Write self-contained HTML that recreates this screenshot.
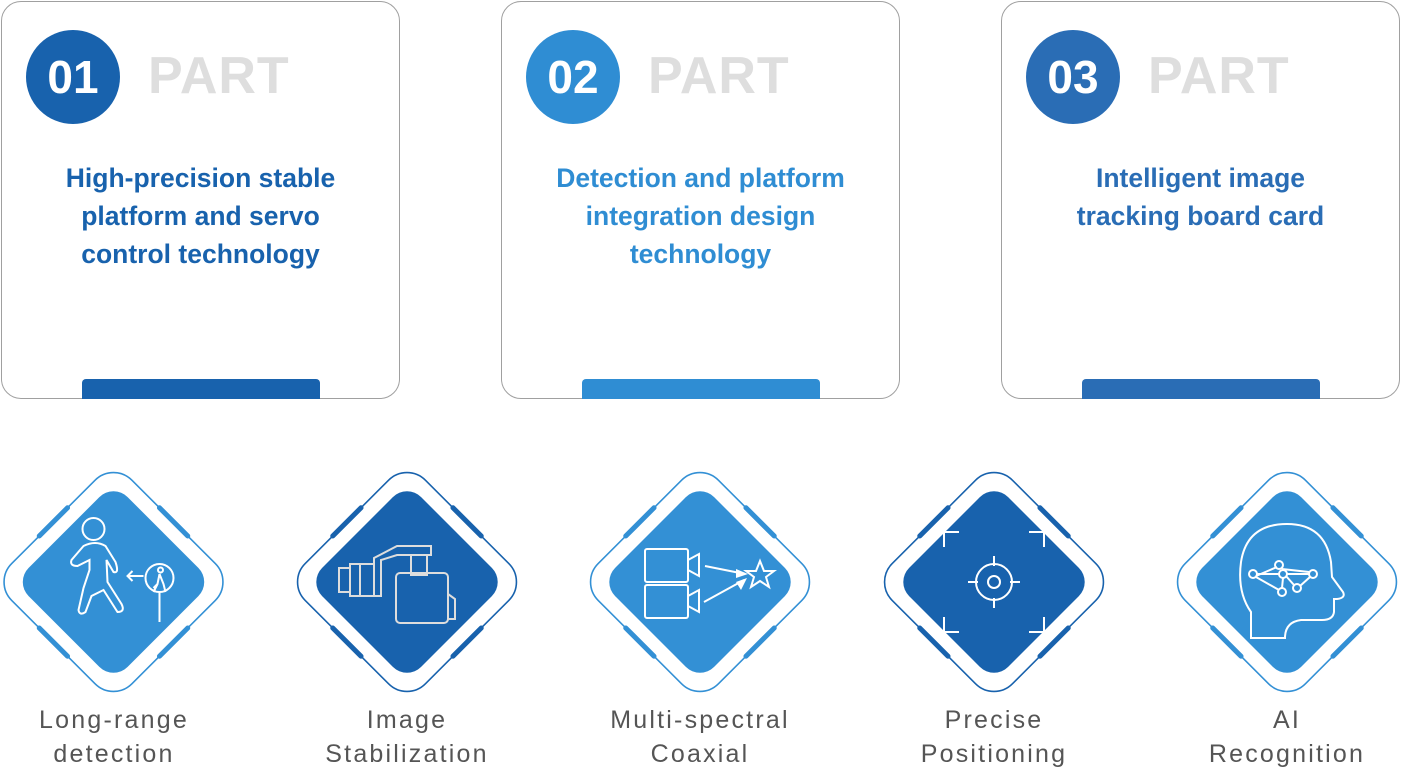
<!DOCTYPE html>
<html><head><meta charset="utf-8"><style>
body{margin:0;width:1401px;height:770px;background:#fff;position:relative;overflow:hidden;font-family:"Liberation Sans","DejaVu Sans",sans-serif}
.card{position:absolute;top:1px;width:399px;height:398px;border:1.5px solid #a0a0a0;border-radius:20px;box-sizing:border-box}
.badge{position:absolute;left:24px;top:28px;width:94px;height:94px;border-radius:50%;color:#fff;font-weight:bold;font-size:46px;line-height:94px;text-align:center}
.part{position:absolute;left:146px;top:44px;font-size:52px;font-weight:bold;color:#dedede;letter-spacing:1px}
.title{position:absolute;left:0;width:397px;top:157px;text-align:center;font-weight:bold;font-size:26.5px;line-height:38px}
.bar{position:absolute;left:80px;width:238px;top:377px;height:20px;border-radius:4px 4px 0 0}
.lab{position:absolute;top:703px;width:240px;text-align:center;font-size:25px;line-height:34px;color:#555;letter-spacing:2.2px}
</style></head><body>
<div class="card" style="left:1px"><div class="badge" style="background:#1862ad">01</div><div class="part">PART</div><div class="title" style="color:#1862ad">High-precision stable<br>platform and servo<br>control technology</div><div class="bar" style="background:#1862ad"></div></div>
<div class="card" style="left:501px"><div class="badge" style="background:#2f8dd3">02</div><div class="part">PART</div><div class="title" style="color:#2f8dd3">Detection and platform<br>integration design<br>technology</div><div class="bar" style="background:#2f8dd3"></div></div>
<div class="card" style="left:1001px"><div class="badge" style="background:#2a6db5">03</div><div class="part">PART</div><div class="title" style="color:#2a6db5">Intelligent image<br>tracking board card</div><div class="bar" style="background:#2a6db5"></div></div>

<svg width="1401" height="770" style="position:absolute;left:0;top:0">
<defs>
<g id="frame">
<g transform="rotate(45)">
<rect x="-85" y="-85" width="170" height="170" rx="26" fill="none" stroke-width="1.6"/>
<g stroke-width="5" stroke-linecap="round">
<line x1="-85" y1="-20" x2="-85" y2="20"/><line x1="85" y1="-20" x2="85" y2="20"/>
<line x1="-20" y1="-85" x2="20" y2="-85"/><line x1="-20" y1="85" x2="20" y2="85"/>
</g>
<rect x="-70" y="-70" width="140" height="140" rx="20" stroke="none"/>
</g></g>
</defs>
<g fill="#3390d5" stroke="#3390d5" transform="translate(113.5,582)"><use href="#frame"/>
<g fill="none" stroke="#fff" stroke-width="2">
<circle cx="-20" cy="-53" r="11"/>
<path d="M-30,-36 Q-18,-42 -8,-36 L2,-20 Q6,-8 0,-10 L-7,-22 L-6,0 L8,22 Q12,30 4,30 L-10,8 L-22,14 L-28,30 Q-34,34 -35,28 L-30,6 L-24,-12 L-24,-22 L-36,-16 Q-44,-16 -42,-22 Z"/>
<circle cx="46" cy="-4" r="14"/><line x1="46" y1="10" x2="46" y2="40"/>
<path d="M30,-6 L14,-6 M19,-11 L14,-6 L19,-1"/>
<circle cx="47" cy="-12" r="2.5"/><path d="M46,-8 L44,2 L40,6 M46,-8 L50,2 L52,10 M44,2 L40,10"/>
</g></g>
<g fill="#1862ad" stroke="#1862ad" transform="translate(407,582)"><use href="#frame"/>
<g fill="none" stroke="#ddd" stroke-width="2">
<rect x="-68" y="-14" width="11" height="24"/><rect x="-57" y="-18" width="10" height="32"/><rect x="-47" y="-18" width="14" height="32"/>
<path d="M-33,-18 L-33,-24 L-10,-36 L24,-36 L24,-27 L-10,-27 L-26,-22 L-26,14 L-33,14"/>
<rect x="4" y="-27" width="16" height="20"/>
<rect x="-11" y="-9" width="52" height="50" rx="4"/><path d="M41,12 L48,17 L48,37 L41,37"/>
</g></g>
<g fill="#3390d5" stroke="#3390d5" transform="translate(700,582)"><use href="#frame"/>
<g fill="none" stroke="#fff" stroke-width="2">
<rect x="-55" y="-33" width="43" height="33" rx="2"/><path d="M-12,-22 L-1,-28 L-1,-6 L-12,-12"/>
<rect x="-55" y="3" width="43" height="33" rx="2"/><path d="M-12,14 L-1,8 L-1,30 L-12,24"/>
<path d="M5,-16 L45,-8 M4,20 L44,-2"/>
<path d="M60,-21 L64,-11 L74,-11 L66,-5 L69,5 L60,-1 L51,5 L54,-5 L46,-11 L56,-11 Z"/>
</g><path d="M36,-13 L48,-8 L36,-4 Z M36,0 L47,-4 L41,8 Z" fill="#fff" stroke="none"/></g>
<g fill="#1862ad" stroke="#1862ad" transform="translate(994,582)"><use href="#frame"/>
<g fill="none" stroke="#fff" stroke-width="2">
<path d="M-50,-35 L-50,-50 L-35,-50 M35,-50 L50,-50 L50,-35 M50,35 L50,50 L35,50 M-35,50 L-50,50 L-50,35"/>
<circle cx="0" cy="0" r="18"/><circle cx="0" cy="0" r="6"/>
<path d="M0,-26 L0,-16 M0,16 L0,26 M-26,0 L-16,0 M16,0 L26,0"/>
</g></g>
<g fill="#3390d5" stroke="#3390d5" transform="translate(1287,582)"><use href="#frame"/>
<g fill="none" stroke="#fff" stroke-width="2">
<path d="M-36,56 L-36,30 Q-50,10 -46,-20 Q-40,-58 0,-58 Q38,-58 44,-20 L45,-5 L56,10 Q59,16 50,17 L47,17 L47,30 Q46,38 35,38 L14,38 Q-2,40 -2,56 Z"/>
<g fill="#3390d5"><circle cx="-8" cy="-17" r="4"/><circle cx="-34" cy="-8" r="4"/><circle cx="-4" cy="-8" r="4"/><circle cx="26" cy="-8" r="4"/><circle cx="-5" cy="10" r="4"/><circle cx="10" cy="6" r="4"/></g>
<path d="M-10,-15 L-31,-6 M-30,-8 L-8,-8 M0,-8 L22,-8 M-5,-13 L22,-10 M-31,-5 L-8,8 M-4,-4 L-5,6 M-1,-6 L7,3 M13,4 L23,-5"/>
</g></g>
</svg>
<div class="lab" style="left:-6px">Long-range<br>detection</div>
<div class="lab" style="left:287px">Image<br>Stabilization</div>
<div class="lab" style="left:580px">Multi-spectral<br>Coaxial</div>
<div class="lab" style="left:874px">Precise<br>Positioning</div>
<div class="lab" style="left:1167px">AI<br>Recognition</div>
</body></html>
